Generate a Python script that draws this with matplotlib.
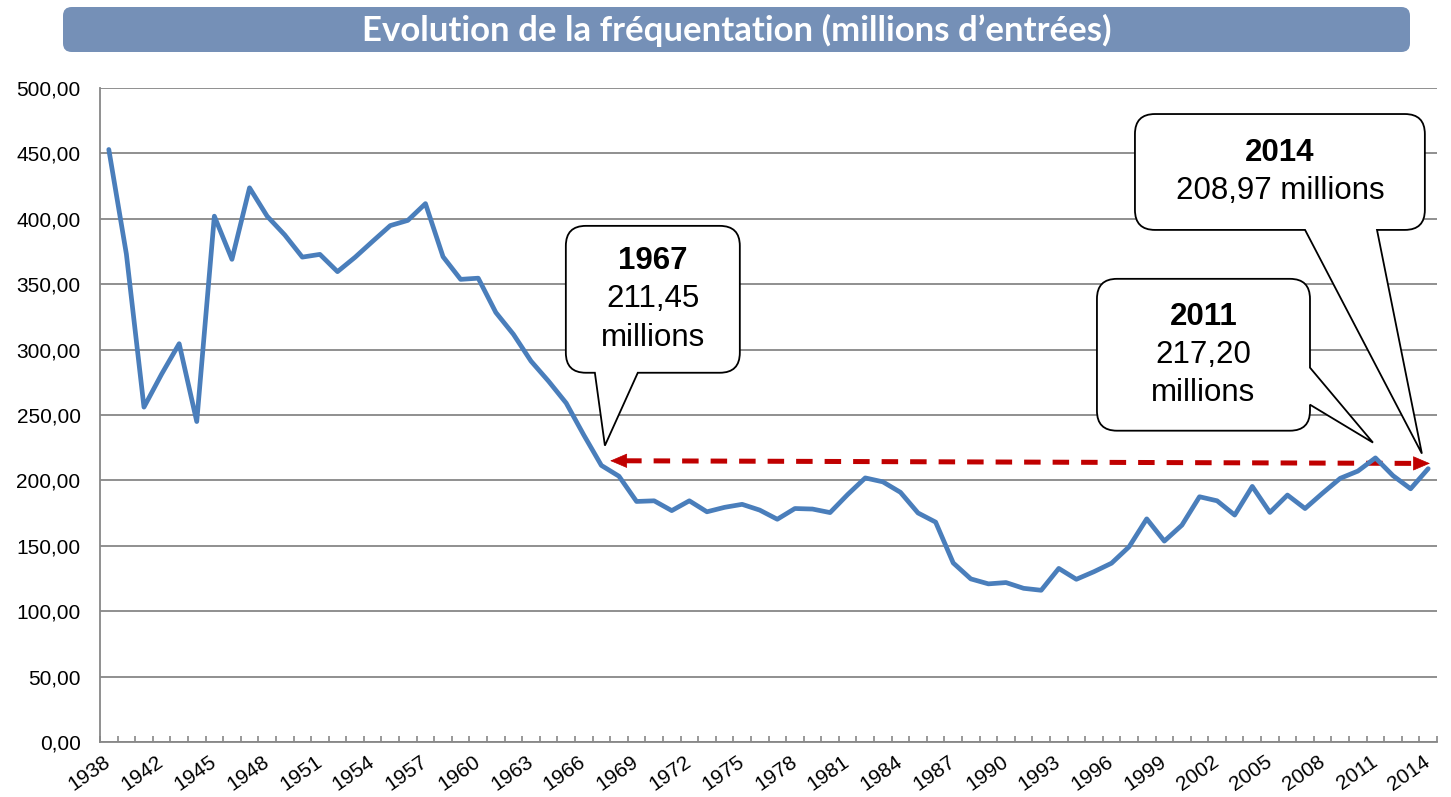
import matplotlib.pyplot as plt
import matplotlib.ticker as mticker
from matplotlib.patches import FancyBboxPatch, PathPatch
from matplotlib.path import Path
import numpy as np

# data: cinema attendance, millions of tickets
years = [1938, 1940, 1941] + list(range(1942, 2015))
entries = [
    453.0, 373.0, 256.0, 281.2, 304.5, 245.0, 402.0, 369.0, 423.7, 402.0,
    387.7, 370.7, 372.8, 359.6, 370.6, 382.8, 394.8, 398.8, 411.6, 371.0,
    353.7, 354.6, 328.4, 311.7, 291.2, 275.8, 259.1, 234.7, 211.45, 203.2,
    183.9, 184.4, 176.9, 184.4, 176.0, 179.4, 181.7, 177.3, 170.3, 178.5,
    178.1, 175.4, 189.2, 201.9, 198.9, 190.9, 175.1, 168.1, 136.9, 124.7,
    120.9, 121.9, 117.5, 116.0, 132.7, 124.4, 130.2, 136.7, 149.3, 170.6,
    153.6, 165.8, 187.5, 184.4, 173.5, 195.4, 175.5, 188.8, 178.5, 190.3,
    201.6, 207.1, 217.2, 203.6, 193.6, 208.97,
]
title = "Evolution de la fréquentation (millions d’entrées)"
callouts = [
    # (bold line, other lines, box x0, y0, x1, y1, side, tail a, tail b, tip)
    ("1967", ["211,45", "millions"], (25.98, 282.3, 35.87, 394.6), "bottom",
     (30.07, 27.63), (28.2, 226.6)),
    ("2011", ["217,20", "millions"], (56.17, 238.0, 68.28, 354.1), "right",
     (286.2, 257.9), (71.86, 228.9)),
    ("2014", ["208,97 millions"], (58.33, 391.5, 74.81, 480.1), "bottom",
     (72.09, 68.0), (74.64, 220.5)),
]
arrow_x = (28.5, 75.1)
arrow_y = (215.0, 213.0)

LINE_BLUE = "#4a7ebb"
GRID = "#878787"
RED = "#c00000"
BANNER = "#7590b7"

plt.rcParams["font.family"] = ["Liberation Sans", "DejaVu Sans"]

fig = plt.figure(figsize=(14.51, 7.97), dpi=100)
ax = fig.add_axes([100 / 1451, 1 - 742 / 797, 1337 / 1451, 654 / 797])

x = np.arange(len(years))
ax.plot(x, entries, color=LINE_BLUE, lw=3.4, solid_joinstyle="round",
        solid_capstyle="round", zorder=4, clip_on=False)

ax.set_xlim(-0.5, len(years) - 0.5)
ax.set_ylim(0, 500)
ax.yaxis.set_major_locator(mticker.MultipleLocator(50))
ax.yaxis.set_major_formatter(mticker.FuncFormatter(lambda v, p: f"{v:.2f}".replace(".", ",")))
ax.grid(axis="y", color=GRID, lw=1.3)
ax.set_axisbelow(True)
for s in ["top", "right"]:
    ax.spines[s].set_visible(False)
for s in ["left", "bottom"]:
    ax.spines[s].set_color(GRID)
    ax.spines[s].set_linewidth(1.3)

ax.set_xticks(x[::3])
ax.set_xticklabels([str(y) for y in years[::3]], rotation=35, ha="right",
                   va="center", rotation_mode="anchor")
ax.set_xticks(np.arange(-0.5, len(years)), minor=True)
ax.tick_params(axis="x", which="major", length=0, pad=13, labelsize=15)
ax.tick_params(axis="x", which="minor", length=4, direction="in", color=GRID, width=1.2)
ax.tick_params(axis="y", length=0, pad=14, labelsize=15)


def callout_path(box, side, base, tip, r=20):
    to_px = ax.transData.transform
    (x0, y0), (x1, y1) = to_px([(box[0], box[1]), (box[2], box[3])])
    tp = tuple(to_px([tip])[0])
    v, c = [(x0 + r, y1)], [Path.MOVETO]

    def line(p):
        v.append(p)
        c.append(Path.LINETO)

    def corner(ctrl, end):
        v.extend([ctrl, end])
        c.extend([Path.CURVE3, Path.CURVE3])

    line((x1 - r, y1))
    corner((x1, y1), (x1, y1 - r))
    if side == "right":
        ya = to_px([(0, base[0])])[0][1]
        yb = to_px([(0, base[1])])[0][1]
        line((x1, ya))
        line(tp)
        line((x1, yb))
    line((x1, y0 + r))
    corner((x1, y0), (x1 - r, y0))
    if side == "bottom":
        xa = to_px([(base[0], 0)])[0][0]
        xb = to_px([(base[1], 0)])[0][0]
        line((xa, y0))
        line(tp)
        line((xb, y0))
    line((x0 + r, y0))
    corner((x0, y0), (x0, y0 + r))
    line((x0, y1 - r))
    corner((x0, y1), (x0 + r, y1))
    v.append((x0 + r, y1))
    c.append(Path.CLOSEPOLY)
    v = ax.transData.inverted().transform(v)
    return Path(v, c)


for bold, rest, box, side, base, tip in callouts:
    path = callout_path(box, side, base, tip)
    ax.add_patch(PathPatch(path, facecolor="white", edgecolor="black", lw=1.3,
                           zorder=6, clip_on=False))
    lines = [bold] + rest
    cx = (box[0] + box[2]) / 2
    cy = (box[1] + box[3]) / 2
    n = len(lines)
    for i, t in enumerate(lines):
        off = ((n - 1) / 2 - i) * 27.5
        ax.annotate(t, (cx, cy), xytext=(0, off), textcoords="offset points",
                    ha="center", va="center", fontsize=22.5,
                    fontweight="bold" if i == 0 else "normal", zorder=7)

# red dashed arrow between 1967 and 2014
head = 0.85
ax.plot([arrow_x[0] + head, arrow_x[1] - head], [arrow_y[0], arrow_y[1]],
        color=RED, lw=3.6, dashes=(3.3, 2.4), zorder=3, clip_on=False)
for tip_x, tip_y, tail_x in [(arrow_x[0], arrow_y[0], arrow_x[0] + head),
                             (arrow_x[1], arrow_y[1], arrow_x[1] - head)]:
    ax.annotate("", xy=(tip_x, tip_y), xytext=(tail_x, tip_y),
                arrowprops=dict(arrowstyle="-|>,head_length=0.75,head_width=0.32",
                                color=RED, lw=0.5, mutation_scale=15,
                                shrinkA=0, shrinkB=0), zorder=3)

# title banner
fig.patches.append(FancyBboxPatch((63 / 1451, 1 - 52 / 797), 1347 / 1451, 45 / 797,
                                  boxstyle="round,pad=0,rounding_size=0.006",
                                  mutation_aspect=1451 / 797,
                                  transform=fig.transFigure, facecolor=BANNER,
                                  edgecolor="none"))
fig.text(737 / 1451, 1 - 30 / 797, title, ha="center", va="center", color="white",
         fontsize=25, fontweight="bold", family=["Lato", "DejaVu Sans"])

fig.savefig("out.png", dpi=100)
